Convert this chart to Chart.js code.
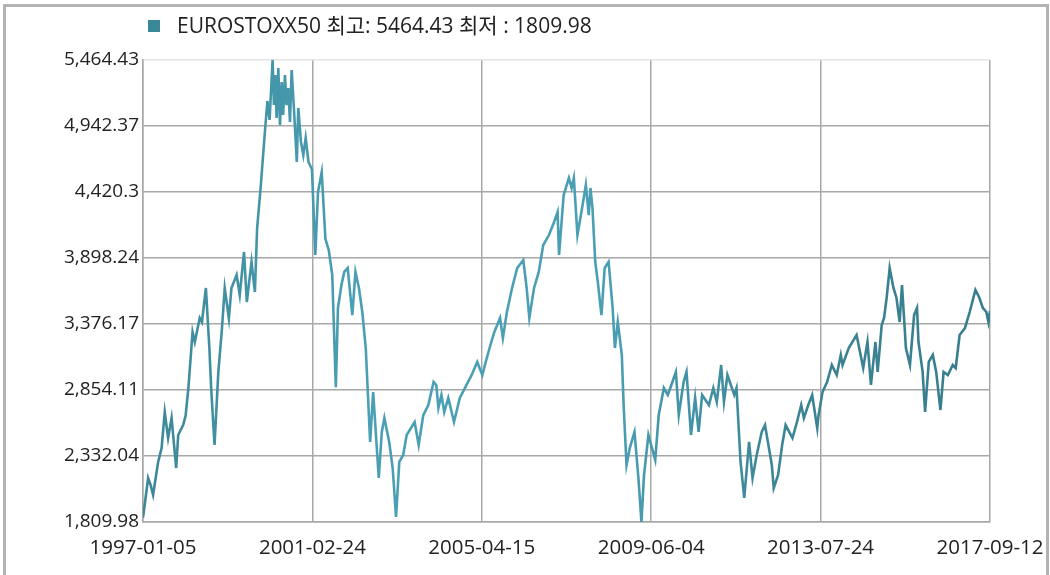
<!DOCTYPE html>
<html>
<head>
<meta charset="utf-8">
<script src="https://cdn.jsdelivr.net/npm/chart.js@4.4.0/dist/chart.umd.min.js"></script>
<style>
  body { margin: 0; background: #fff; }
  #wrap { position: relative; width: 1050px; height: 575px; overflow: hidden; }
  #frame { position: absolute; left: 3px; top: 4px; width: 1040px; height: 600px;
           border: 3px solid #b3b3b3; pointer-events: none; }
</style>
</head>
<body>
<div id="wrap">
  <canvas id="myChart" width="1050" height="575"></canvas>
  <div id="frame"></div>
</div>
<script>
// EUROSTOXX50, values
var seriesName = "EUROSTOXX50";
var dates = [
  '1997-01-05','1997-02-20','1997-03-15','1997-04-05','1997-05-20','1997-06-20','1997-07-18','1997-08-17','1997-09-17','1997-10-28','1997-11-15','1997-12-29',
  '1998-01-20','1998-02-14','1998-03-23','1998-04-12','1998-05-26','1998-06-15','1998-07-20','1998-08-20','1998-09-05','1998-10-05','1998-11-08','1998-12-08',
  '1999-01-04','1999-02-10','1999-03-05','1999-04-20','1999-05-18','1999-06-25','1999-07-20','1999-08-31','1999-09-30','1999-10-20','1999-11-20','1999-12-28',
  '2000-01-20','2000-02-08','2000-03-06','2000-03-18','2000-03-30','2000-04-11','2000-04-26','2000-05-11','2000-05-26','2000-06-08','2000-06-24','2000-07-08','2000-07-24','2000-08-08','2000-08-23','2000-09-14','2000-10-08','2000-10-21','2000-11-14','2000-12-05','2000-12-26',
  '2001-01-20','2001-02-20','2001-03-22','2001-04-15','2001-05-18','2001-06-20','2001-07-20','2001-08-20','2001-09-21','2001-10-10','2001-11-10','2001-12-05',
  '2002-01-05','2002-02-15','2002-03-15','2002-04-15','2002-05-15','2002-06-15','2002-07-24','2002-08-20','2002-10-09','2002-11-05','2002-11-28',
  '2003-01-10','2003-02-10','2003-03-12','2003-04-10','2003-05-15','2003-06-15','2003-08-25','2003-09-30','2003-11-10','2003-12-25',
  '2004-02-10','2004-03-05','2004-03-24','2004-04-20','2004-05-15','2004-06-20','2004-08-10','2004-10-01','2004-11-30',
  '2005-01-15','2005-03-05','2005-04-20','2005-05-20','2005-07-01','2005-08-05','2005-09-25','2005-10-20','2005-11-25',
  '2006-01-10','2006-02-25','2006-04-20','2006-05-20','2006-06-13','2006-07-25','2006-09-05','2006-10-15','2006-12-05',
  '2007-01-20','2007-02-20','2007-03-05','2007-04-15','2007-06-01','2007-06-25','2007-07-15','2007-08-16','2007-10-01','2007-10-30','2007-11-25','2007-12-10','2007-12-28',
  '2008-01-22','2008-02-15','2008-03-17','2008-04-15','2008-05-20','2008-06-25','2008-07-15','2008-08-10','2008-09-15','2008-10-01','2008-10-27','2008-11-25',
  '2009-01-06','2009-02-10','2009-03-09','2009-04-01','2009-05-10','2009-07-10','2009-08-10','2009-09-25','2009-10-30','2009-12-01',
  '2010-01-10','2010-02-05','2010-03-20','2010-04-15','2010-05-25','2010-07-01','2010-08-01','2010-09-01','2010-11-01','2010-12-10',
  '2011-01-10','2011-02-18','2011-03-15','2011-04-15','2011-06-15','2011-07-05','2011-08-10','2011-09-12','2011-10-25','2011-11-25',
  '2012-01-01','2012-02-15','2012-03-15','2012-05-15','2012-06-01','2012-07-10','2012-08-15','2012-09-15','2012-11-15','2012-12-25',
  '2013-02-01','2013-02-25','2013-04-05','2013-05-10','2013-06-24','2013-07-05','2013-08-10','2013-09-20','2013-11-01','2013-12-15',
  '2014-01-20','2014-02-05','2014-04-01','2014-06-10','2014-08-08','2014-09-15','2014-10-16','2014-11-25','2014-12-15',
  '2015-01-20','2015-02-10','2015-03-05','2015-04-01','2015-05-05','2015-06-01','2015-06-29','2015-07-20','2015-08-24','2015-09-29','2015-11-05','2015-12-01','2015-12-14',
  '2016-01-20','2016-02-11','2016-03-15','2016-04-20','2016-05-20','2016-06-27','2016-07-25','2016-09-01','2016-10-15','2016-11-10','2016-12-15',
  '2017-02-01','2017-03-15','2017-05-05','2017-06-10','2017-07-10','2017-08-10','2017-08-29','2017-09-12'
];
var values = [
  1845,2158,2100,2024,2285,2395,2680,2474,2632,2237,2498,2577,
  2650,2870,3313,3234,3424,3392,3661,3186,2870,2419,2997,3313,
  3660,3420,3661,3764,3606,3946,3550,3867,3629,4135,4452,4895,
  5140,4990,5464.43,5108,5346,5006,5401,4950,5290,5030,5346,5108,5243,4974,5385,5053,4658,5085,4816,4713,4847,
  4658,4600,3922,4420,4578,4050,3960,3764,2877,3503,3685,3788,
  3819,3447,3788,3661,3471,3186,2443,2838,2158,2522,2633,
  2443,2237,1850,2285,2340,2498,2601,2419,2656,2735,
  2917,2894,2712,2815,2680,2791,2601,2791,2894,
  2973,3076,2973,3076,3210,3313,3424,3265,3471,
  3661,3819,3882,3661,3424,3661,3788,4001,4080,
  4183,4262,3922,4396,4531,4452,4531,4080,4317,4476,4238,4452,4294,
  3867,3700,3447,3819,3867,3503,3186,3392,3131,2735,2261,2395,
  2522,2158,1809.98,2182,2498,2300,2656,2870,2815,2894,
  2997,2656,2917,2997,2498,2791,2522,2815,2735,2870,
  2759,3052,2759,2973,2815,2870,2285,2000,2443,2158,
  2340,2522,2577,2261,2079,2182,2419,2577,2474,2601,
  2735,2633,2735,2815,2553,2650,2838,2917,3052,2973,
  3131,3052,3186,3289,3028,3234,2894,3234,2997,
  3368,3424,3582,3819,3661,3582,3392,3685,3186,3052,3447,3503,3234,
  2997,2680,3076,3131,2997,2696,2997,2973,3052,3028,3289,
  3345,3471,3645,3582,3503,3471,3392,3480
];
var xTickLabels = ['1997-01-05','2001-02-24','2005-04-15','2009-06-04','2013-07-24','2017-09-12'];
var yTickValues = [1809.98, 2332.04, 2854.11, 3376.17, 3898.24, 4420.3, 4942.37, 5464.43];

var startDay = Date.parse(xTickLabels[0]);
function dayOf(d) {
  return (Date.parse(d) - startDay) / 86400000;
}

var points = dates.map(function (d, i) { return {x: dayOf(d), y: values[i]}; });
var hi = Math.max.apply(null, values);
var lo = Math.min.apply(null, values);

var fontFam = '"Open Sans", "Noto Sans CJK KR", sans-serif';

function lineGradient(ctx) {
  var chart = ctx.chart;
  var area = chart.chartArea;
  if (!area) return '#3f8fa0';
  var g = chart.ctx.createLinearGradient(area.left, 0, area.right, 0);
  g.addColorStop(0, '#3c8798');
  g.addColorStop(0.25, '#4a9fb4');
  g.addColorStop(0.55, '#4a9fb4');
  g.addColorStop(0.75, '#3c8596');
  g.addColorStop(1, '#377d8d');
  return g;
}

// legend drawn at the left edge of the plot
var topLegend = {
  id: 'topLegend',
  afterDraw: function (chart) {
    var c = chart.ctx;
    var x = chart.chartArea.left + 5;
    c.save();
    c.fillStyle = '#3a8797';
    c.fillRect(x, 20, 12, 12);
    c.fillStyle = '#222';
    c.font = '21px ' + fontFam;
    c.textBaseline = 'middle';
    c.fillText(chart.data.datasets[0].label, x + 29, 27);
    c.restore();
  }
};

new Chart("myChart", {
  type: "line",
  data: {
    datasets: [{
      label: seriesName + ' 최고: ' + hi + ' 최저 : ' + lo,
      data: points,
      borderColor: lineGradient,
      borderWidth: 2.6,
      pointRadius: 0,
      tension: 0,
      fill: false
    }]
  },
  options: {
    responsive: false,
    animation: false,
    layout: {padding: {top: 60, right: 60, left: 0, bottom: 0}},
    plugins: {
      legend: {display: false},
      tooltip: {enabled: false}
    },
    scales: {
      x: {
        type: 'linear',
        min: 0,
        max: dayOf(xTickLabels[xTickLabels.length - 1]),
        afterBuildTicks: function (axis) {
          axis.ticks = xTickLabels.map(function (d) { return {value: dayOf(d)}; });
        },
        afterFit: function (axis) {
          axis.height = 53;
          axis.paddingLeft = 0;
          axis.paddingRight = 0;
        },
        ticks: {
          autoSkip: false,
          maxRotation: 0,
          padding: 14,
          color: '#222',
          font: {family: fontFam, size: 20.5},
          callback: function (v, i) { return xTickLabels[i]; }
        },
        grid: {color: '#a8a8a8', lineWidth: 1.5, drawTicks: false},
        border: {color: '#a8a8a8', width: 1.5}
      },
      y: {
        min: yTickValues[0],
        max: yTickValues[yTickValues.length - 1],
        afterBuildTicks: function (axis) {
          axis.ticks = yTickValues.map(function (v) { return {value: v}; });
        },
        afterFit: function (axis) { axis.width = 143; },
        ticks: {
          padding: 4,
          color: '#222',
          font: {family: fontFam, size: 19},
          callback: function (v) {
            return v.toLocaleString('en-US', {maximumFractionDigits: 2});
          }
        },
        grid: {
          drawTicks: false,
          lineWidth: 1.5,
          color: function (ctx) {
            return ctx.index === yTickValues.length - 1 ? '#e4e4e4' : '#a8a8a8';
          }
        },
        border: {color: '#a8a8a8', width: 1.5}
      }
    }
  },
  plugins: [topLegend]
});
</script>
</body>
</html>
